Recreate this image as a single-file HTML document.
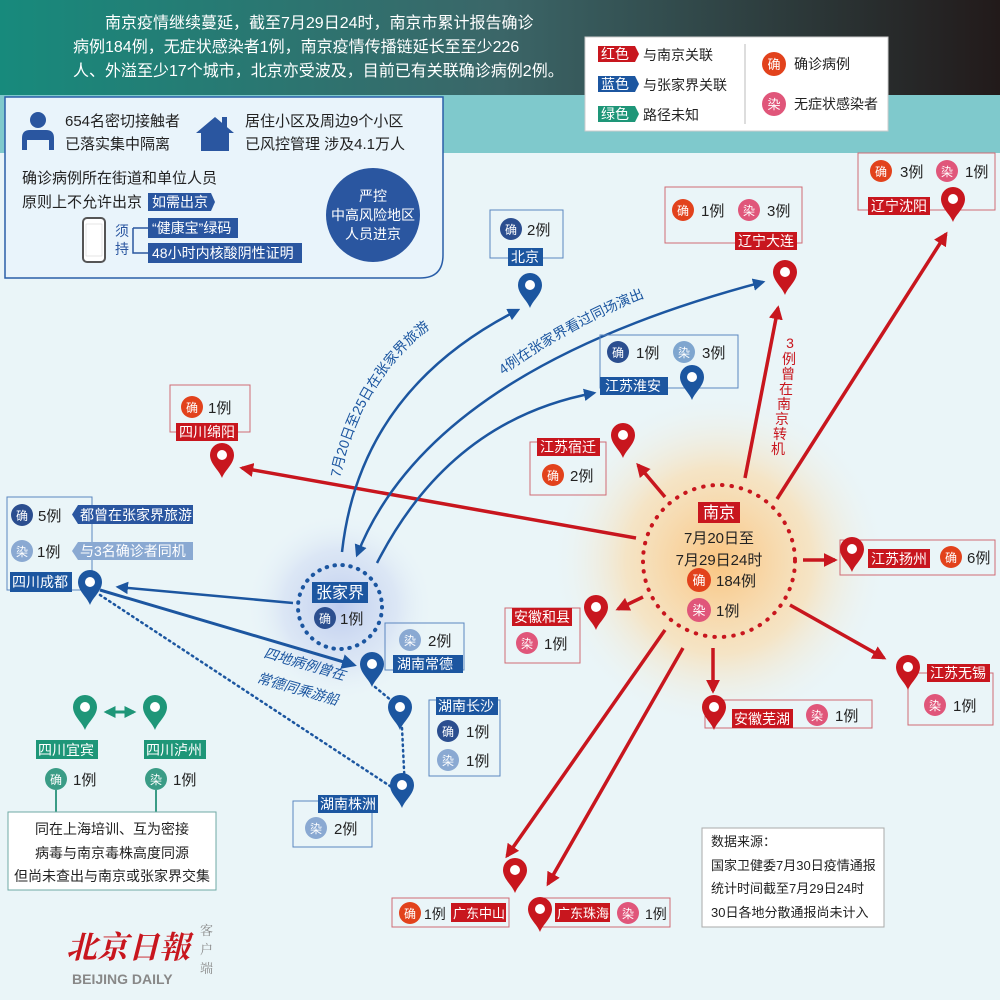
<!DOCTYPE html>
<html><head><meta charset="utf-8">
<style>
html,body{margin:0;padding:0;background:#eaf5f8;}
svg{display:block;font-family:"Liberation Sans","Noto Sans CJK SC",sans-serif;}
</style></head>
<body>
<svg width="1000" height="1000" viewBox="0 0 1000 1000" xmlns="http://www.w3.org/2000/svg">
<defs>
<linearGradient id="hdr" x1="0" y1="0" x2="1" y2="0">
<stop offset="0" stop-color="#178a7c"/><stop offset="0.5" stop-color="#3b6668"/><stop offset="1" stop-color="#221a1a"/>
</linearGradient>
<radialGradient id="glowR"><stop offset="0" stop-color="#fbc27a" stop-opacity="0.95"/><stop offset="0.55" stop-color="#fcd9a4" stop-opacity="0.6"/><stop offset="1" stop-color="#eaf5f8" stop-opacity="0"/></radialGradient>
<radialGradient id="glowB"><stop offset="0" stop-color="#b9c8ee" stop-opacity="0.9"/><stop offset="0.6" stop-color="#cdd8f2" stop-opacity="0.5"/><stop offset="1" stop-color="#eaf5f8" stop-opacity="0"/></radialGradient>
<symbol id="pin" viewBox="-14 -36 28 36" overflow="visible">
<path d="M0,0 C-3,-8 -12,-14 -12,-23 A12,12 0 1 1 12,-23 C12,-14 3,-8 0,0Z"/>
<circle cx="0" cy="-23" r="5" fill="#fff"/>
</symbol>
<marker id="ar" viewBox="0 0 10 10" refX="8" refY="5" markerWidth="4" markerHeight="4" orient="auto-start-reverse"><path d="M0,0 L10,5 L0,10 Z" fill="#c8161e"/></marker>
<marker id="ab" viewBox="0 0 10 10" refX="8" refY="5" markerWidth="5" markerHeight="5" orient="auto-start-reverse"><path d="M0,0 L10,5 L0,10 Z" fill="#1c56a0"/></marker>
<marker id="ag" viewBox="0 0 10 10" refX="8" refY="5" markerWidth="4" markerHeight="4" orient="auto-start-reverse"><path d="M0,0 L10,5 L0,10 Z" fill="#1e9678"/></marker>
<path id="tpBJ" d="M340,478 Q365,360 465,305"/>
<path id="tpDL" d="M503,375 Q580,320 665,290"/>
</defs>

<rect width="1000" height="1000" fill="#eaf5f8"/>
<rect width="1000" height="95" fill="url(#hdr)"/>
<rect y="95" width="1000" height="58" fill="#7fc9cc"/>

<g fill="#fff" font-size="16">
<text x="105" y="28">南京疫情继续蔓延，截至7月29日24时，南京市累计报告确诊</text>
<text x="73" y="52">病例184例，无症状感染者1例，南京疫情传播链延长至至少226</text>
<text x="73" y="76">人、外溢至少17个城市，北京亦受波及，目前已有关联确诊病例2例。</text>
</g>

<rect x="585" y="37" width="303" height="94" fill="#fff" stroke="#ccc"/>
<g font-size="14">
<path d="M598,46 h37 l4,8 l-4,8 h-37z" fill="#c8161e"/><text x="601" y="59" fill="#fff">红色</text><text x="643" y="60" fill="#222">与南京关联</text>
<path d="M598,76 h37 l4,8 l-4,8 h-37z" fill="#1c56a0"/><text x="601" y="89" fill="#fff">蓝色</text><text x="643" y="90" fill="#222">与张家界关联</text>
<path d="M598,106 h37 l4,8 l-4,8 h-37z" fill="#1e9678"/><text x="601" y="119" fill="#fff">绿色</text><text x="643" y="120" fill="#222">路径未知</text>
<line x1="745" y1="44" x2="745" y2="124" stroke="#bbb"/>
<circle cx="774" cy="64" r="12" fill="#e2421c"/><text x="774" y="69" fill="#fff" text-anchor="middle" font-size="13">确</text><text x="794" y="69" fill="#222">确诊病例</text>
<circle cx="774" cy="104" r="12" fill="#e0567a"/><text x="774" y="109" fill="#fff" text-anchor="middle" font-size="13">染</text><text x="794" y="109" fill="#222">无症状感染者</text>
</g>

<path d="M5,97 H443 V255 Q443,278 420,278 H5 Z" fill="#e9f4fb" stroke="#2a5ea8" stroke-width="1.5"/>
<g fill="#2a56a0">
<circle cx="38" cy="120" r="8"/>
<path d="M22,150 V138 Q22,130 30,130 H46 Q54,130 54,138 V150 H49 V140 H27 V150Z"/>
<path d="M196,133 L215,117 L234,133 H229 V151 H201 V133Z"/><rect x="222" y="117" width="5" height="10"/>
</g>
<g font-size="15" fill="#222">
<text x="65" y="126">654名密切接触者</text>
<text x="65" y="149">已落实集中隔离</text>
<text x="245" y="126">居住小区及周边9个小区</text>
<text x="245" y="149">已风控管理 涉及4.1万人</text>
<text x="22" y="183">确诊病例所在街道和单位人员</text>
<text x="22" y="207">原则上不允许出京</text>
</g>
<path d="M148,193 h63 l4,9 l-4,9 h-63z" fill="#2a56a0"/><text x="152" y="207" font-size="14" fill="#fff">如需出京</text>
<rect x="83" y="218" width="22" height="44" rx="4" fill="#fff" stroke="#555" stroke-width="2"/><rect x="86" y="224" width="16" height="32" fill="#fff" stroke="#ccc" stroke-width="0.5"/>
<text x="115" y="236" font-size="14" fill="#2a56a0">须</text><text x="115" y="254" font-size="14" fill="#2a56a0">持</text>
<path d="M133,228 v25 h15 M133,228 h15" fill="none" stroke="#2a56a0" stroke-width="1.5"/>
<rect x="148" y="218" width="90" height="20" fill="#2a56a0"/><text x="152" y="233" font-size="14" fill="#fff">“健康宝”绿码</text>
<rect x="148" y="243" width="154" height="20" fill="#2a56a0"/><text x="152" y="258" font-size="14" fill="#fff">48小时内核酸阴性证明</text>
<circle cx="373" cy="215" r="47" fill="#2a56a0"/>
<g font-size="14" fill="#fff" text-anchor="middle"><text x="373" y="201">严控</text><text x="373" y="220">中高风险地区</text><text x="373" y="239">人员进京</text></g>

<circle cx="719" cy="561" r="170" fill="url(#glowR)"/>
<circle cx="340" cy="607" r="95" fill="url(#glowB)"/>

<g stroke="#c8161e" stroke-width="3.5" fill="none" marker-end="url(#ar)">
<line x1="636" y1="538" x2="242" y2="468"/>
<line x1="745" y1="478" x2="778" y2="308"/>
<line x1="777" y1="499" x2="946" y2="234"/>
<line x1="665" y1="497" x2="638" y2="465"/>
<line x1="803" y1="560" x2="835" y2="560"/>
<line x1="643" y1="597" x2="618" y2="609"/>
<line x1="790" y1="605" x2="884" y2="658"/>
<line x1="713" y1="648" x2="713" y2="691"/>
<line x1="665" y1="630" x2="507" y2="856"/>
<line x1="683" y1="648" x2="548" y2="884"/>
</g>

<g stroke="#1c56a0" stroke-width="2.5" fill="none">
<path d="M342,552 Q360,390 518,310" marker-end="url(#ab)"/>
<path d="M357,555 Q430,370 763,282" marker-start="url(#ab)" marker-end="url(#ab)"/>
<path d="M377,563 Q450,420 594,393" marker-end="url(#ab)"/>
<line x1="293" y1="603" x2="118" y2="587" marker-end="url(#ab)"/>
<line x1="100" y1="590" x2="354" y2="665" stroke-width="3" marker-end="url(#ab)"/>
</g>
<g stroke="#1c56a0" stroke-width="2.5" fill="none" stroke-dasharray="1.5 4" stroke-linecap="round">
<line x1="100" y1="595" x2="396" y2="790"/>
<path d="M375,687 L398,706 M402,728 L405,790"/>
</g>
<text font-size="14" fill="#1c56a0"><textPath href="#tpBJ">7月20日至25日在张家界旅游</textPath></text>
<text font-size="14" fill="#1c56a0"><textPath href="#tpDL">4例在张家界看过同场演出</textPath></text>
<g font-size="14" fill="#1c56a0" font-style="italic">
<text transform="translate(263,657) rotate(16)">四地病例曾在</text>
<text transform="translate(256,682) rotate(16)">常德同乘游船</text>
</g>

<g font-size="14" fill="#c8161e" text-anchor="middle">
<text x="790" y="348">3</text><text x="789" y="364">例</text><text x="788" y="379">曾</text><text x="786" y="394">在</text><text x="784" y="409">南</text><text x="782" y="424">京</text><text x="780" y="439">转</text><text x="778" y="454">机</text>
</g>

<circle cx="719" cy="561" r="76" fill="none" stroke="#c8161e" stroke-width="4" stroke-dasharray="0.5 9" stroke-linecap="round"/>
<rect x="698" y="502" width="42" height="21" fill="#c8161e"/><text x="719" y="518" font-size="16" fill="#fff" text-anchor="middle">南京</text>
<g font-size="15" fill="#222" text-anchor="middle"><text x="719" y="543">7月20日至</text><text x="719" y="565">7月29日24时</text></g>
<circle cx="699" cy="580" r="12" fill="#e2421c"/><text x="699" y="585" font-size="13" fill="#fff" text-anchor="middle">确</text><text x="716" y="586" font-size="15" fill="#222">184例</text>
<circle cx="699" cy="610" r="12" fill="#e0567a"/><text x="699" y="615" font-size="13" fill="#fff" text-anchor="middle">染</text><text x="716" y="616" font-size="15" fill="#222">1例</text>

<circle cx="340" cy="607" r="42" fill="none" stroke="#1c56a0" stroke-width="4" stroke-dasharray="0.5 7.5" stroke-linecap="round"/>
<rect x="312" y="582" width="56" height="21" fill="#1c56a0"/><text x="340" y="598" font-size="16" fill="#fff" text-anchor="middle">张家界</text>
<circle cx="325" cy="618" r="11" fill="#2b4e8f"/><text x="325" y="623" font-size="12" fill="#fff" text-anchor="middle">确</text><text x="340" y="624" font-size="15" fill="#222">1例</text>

<g fill="none" stroke="#d06a74" stroke-width="1">
<rect x="858" y="153" width="137" height="57"/>
<rect x="665" y="187" width="137" height="56"/>
<rect x="170" y="385" width="80" height="47"/>
<rect x="530" y="442" width="76" height="53"/>
<rect x="840" y="540" width="155" height="35"/>
<rect x="505" y="608" width="75" height="55"/>
<rect x="908" y="673" width="85" height="52"/>
<rect x="705" y="700" width="167" height="28"/>
<rect x="392" y="898" width="117" height="29"/>
<rect x="540" y="898" width="130" height="29"/>
</g>
<g fill="none" stroke="#5b86bf" stroke-width="1">
<rect x="490" y="210" width="73" height="48"/>
<rect x="600" y="335" width="138" height="53"/>
<rect x="7" y="497" width="85" height="93"/>
<rect x="385" y="623" width="79" height="47"/>
<rect x="429" y="700" width="71" height="76"/>
<rect x="293" y="801" width="79" height="46"/>
</g>

<g font-size="14" fill="#fff">
<rect x="868" y="197" width="62" height="18" fill="#c8161e"/><text x="871" y="211">辽宁沈阳</text>
<rect x="735" y="232" width="62" height="18" fill="#c8161e"/><text x="738" y="246">辽宁大连</text>
<rect x="176" y="423" width="62" height="18" fill="#c8161e"/><text x="179" y="437">四川绵阳</text>
<rect x="537" y="438" width="63" height="18" fill="#c8161e"/><text x="540" y="452">江苏宿迁</text>
<rect x="868" y="549" width="62" height="19" fill="#c8161e"/><text x="871" y="564">江苏扬州</text>
<rect x="512" y="608" width="60" height="18" fill="#c8161e"/><text x="514" y="622">安徽和县</text>
<rect x="927" y="664" width="63" height="18" fill="#c8161e"/><text x="930" y="678">江苏无锡</text>
<rect x="732" y="709" width="61" height="19" fill="#c8161e"/><text x="734" y="724">安徽芜湖</text>
<rect x="451" y="903" width="55" height="19" fill="#c8161e"/><text x="453" y="918" font-size="13">广东中山</text>
<rect x="555" y="903" width="55" height="19" fill="#c8161e"/><text x="557" y="918" font-size="13">广东珠海</text>
<rect x="508" y="248" width="35" height="18" fill="#1c56a0"/><text x="511" y="262">北京</text>
<rect x="600" y="377" width="68" height="18" fill="#1c56a0"/><text x="605" y="391">江苏淮安</text>
<rect x="10" y="572" width="62" height="20" fill="#1c56a0"/><text x="12" y="587">四川成都</text>
<rect x="393" y="655" width="70" height="18" fill="#1c56a0"/><text x="397" y="669">湖南常德</text>
<rect x="436" y="697" width="62" height="18" fill="#1c56a0"/><text x="438" y="711">湖南长沙</text>
<rect x="318" y="795" width="60" height="18" fill="#1c56a0"/><text x="320" y="809">湖南株洲</text>
<path d="M78,505 h115 v19 h-115 l-6,-9.5z" fill="#2a56a0"/><text x="80" y="520">都曾在张家界旅游</text>
<path d="M78,542 h115 v18 h-115 l-6,-9z" fill="#8aa9d2"/><text x="80" y="556">与3名确诊者同机</text>
<rect x="36" y="740" width="62" height="19" fill="#1e9678"/><text x="38" y="755">四川宜宾</text>
<rect x="144" y="740" width="62" height="19" fill="#1e9678"/><text x="146" y="755">四川泸州</text>
</g>

<g font-size="12" fill="#fff" text-anchor="middle">
<circle cx="881" cy="171" r="11" fill="#e2421c"/><text x="881" y="176">确</text>
<circle cx="947" cy="171" r="11" fill="#e0567a"/><text x="947" y="176">染</text>
<circle cx="683" cy="210" r="11" fill="#e2421c"/><text x="683" y="215">确</text>
<circle cx="749" cy="210" r="11" fill="#e0567a"/><text x="749" y="215">染</text>
<circle cx="511" cy="229" r="11" fill="#2b4e8f"/><text x="511" y="234">确</text>
<circle cx="618" cy="352" r="11" fill="#2b4e8f"/><text x="618" y="357">确</text>
<circle cx="684" cy="352" r="11" fill="#7fa6cf"/><text x="684" y="357">染</text>
<circle cx="192" cy="407" r="11" fill="#e2421c"/><text x="192" y="412">确</text>
<circle cx="553" cy="475" r="11" fill="#e2421c"/><text x="553" y="480">确</text>
<circle cx="951" cy="557" r="11" fill="#e2421c"/><text x="951" y="562">确</text>
<circle cx="527" cy="643" r="11" fill="#e0567a"/><text x="527" y="648">染</text>
<circle cx="935" cy="705" r="11" fill="#e0567a"/><text x="935" y="710">染</text>
<circle cx="817" cy="715" r="11" fill="#e0567a"/><text x="817" y="720">染</text>
<circle cx="410" cy="913" r="11" fill="#e2421c"/><text x="410" y="918">确</text>
<circle cx="628" cy="913" r="11" fill="#e0567a"/><text x="628" y="918">染</text>
<circle cx="22" cy="515" r="11" fill="#2b4e8f"/><text x="22" y="520">确</text>
<circle cx="22" cy="551" r="11" fill="#8aa9d2"/><text x="22" y="556">染</text>
<circle cx="410" cy="640" r="11" fill="#8aa9d2"/><text x="410" y="645">染</text>
<circle cx="448" cy="731" r="11" fill="#2b4e8f"/><text x="448" y="736">确</text>
<circle cx="448" cy="760" r="11" fill="#8aa9d2"/><text x="448" y="765">染</text>
<circle cx="316" cy="828" r="11" fill="#8aa9d2"/><text x="316" y="833">染</text>
<circle cx="56" cy="779" r="11" fill="#3a9c86"/><text x="56" y="784">确</text>
<circle cx="156" cy="779" r="11" fill="#3a9c86"/><text x="156" y="784">染</text>
</g>
<g font-size="15" fill="#222">
<text x="900" y="177">3例</text><text x="965" y="177">1例</text>
<text x="701" y="216">1例</text><text x="767" y="216">3例</text>
<text x="527" y="235">2例</text>
<text x="636" y="358">1例</text><text x="702" y="358">3例</text>
<text x="208" y="413">1例</text>
<text x="570" y="481">2例</text>
<text x="967" y="563">6例</text>
<text x="544" y="649">1例</text>
<text x="953" y="711">1例</text>
<text x="835" y="721">1例</text>
<text x="424" y="919" font-size="14">1例</text>
<text x="645" y="919" font-size="14">1例</text>
<text x="38" y="521">5例</text>
<text x="37" y="557">1例</text>
<text x="428" y="646">2例</text>
<text x="466" y="737">1例</text>
<text x="466" y="766">1例</text>
<text x="334" y="834">2例</text>
<text x="73" y="785">1例</text>
<text x="173" y="785">1例</text>
</g>

<g fill="#c8161e">
<use href="#pin" x="939" y="186" width="28" height="36"/>
<use href="#pin" x="771" y="259" width="28" height="36"/>
<use href="#pin" x="208" y="442" width="28" height="36"/>
<use href="#pin" x="609" y="422" width="28" height="36"/>
<use href="#pin" x="838" y="536" width="28" height="36"/>
<use href="#pin" x="582" y="594" width="28" height="36"/>
<use href="#pin" x="894" y="654" width="28" height="36"/>
<use href="#pin" x="700" y="694" width="28" height="36"/>
<use href="#pin" x="501" y="857" width="28" height="36"/>
<use href="#pin" x="526" y="896" width="28" height="36"/>
</g>
<g fill="#1c56a0">
<use href="#pin" x="516" y="272" width="28" height="36"/>
<use href="#pin" x="678" y="364" width="28" height="36"/>
<use href="#pin" x="76" y="569" width="28" height="36"/>
<use href="#pin" x="358" y="651" width="28" height="36"/>
<use href="#pin" x="386" y="694" width="28" height="36"/>
<use href="#pin" x="388" y="772" width="28" height="36"/>
</g>
<g fill="#1e9678">
<use href="#pin" x="71" y="694" width="28" height="36"/>
<use href="#pin" x="141" y="694" width="28" height="36"/>
</g>
<line x1="106" y1="712" x2="134" y2="712" stroke="#1e9678" stroke-width="3" marker-start="url(#ag)" marker-end="url(#ag)"/>

<line x1="56" y1="790" x2="56" y2="812" stroke="#3a9c86" stroke-width="2"/>
<line x1="156" y1="790" x2="156" y2="812" stroke="#3a9c86" stroke-width="2"/>
<rect x="8" y="812" width="208" height="78" fill="#fff" stroke="#6fa9a4"/>
<g font-size="14" fill="#222" text-anchor="middle">
<text x="112" y="834">同在上海培训、互为密接</text>
<text x="112" y="858">病毒与南京毒株高度同源</text>
<text x="112" y="881">但尚未查出与南京或张家界交集</text>
</g>

<rect x="702" y="828" width="182" height="99" fill="#fff" stroke="#aaa"/>
<g font-size="13" fill="#222">
<text x="711" y="846">数据来源：</text>
<text x="711" y="870">国家卫健委7月30日疫情通报</text>
<text x="711" y="893">统计时间截至7月29日24时</text>
<text x="711" y="917">30日各地分散通报尚未计入</text>
</g>

<text x="66" y="958" font-family="'Liberation Serif','Noto Serif CJK SC',serif" font-size="31" font-weight="bold" fill="#c8161e" font-style="italic">北京日報</text>
<text x="72" y="984" font-size="14" font-weight="bold" fill="#888">BEIJING DAILY</text>
<g font-family="'Noto Serif CJK SC',serif" font-size="13" fill="#888"><text x="200" y="935">客</text><text x="200" y="954">户</text><text x="200" y="973">端</text></g>
</svg>
</body></html>
